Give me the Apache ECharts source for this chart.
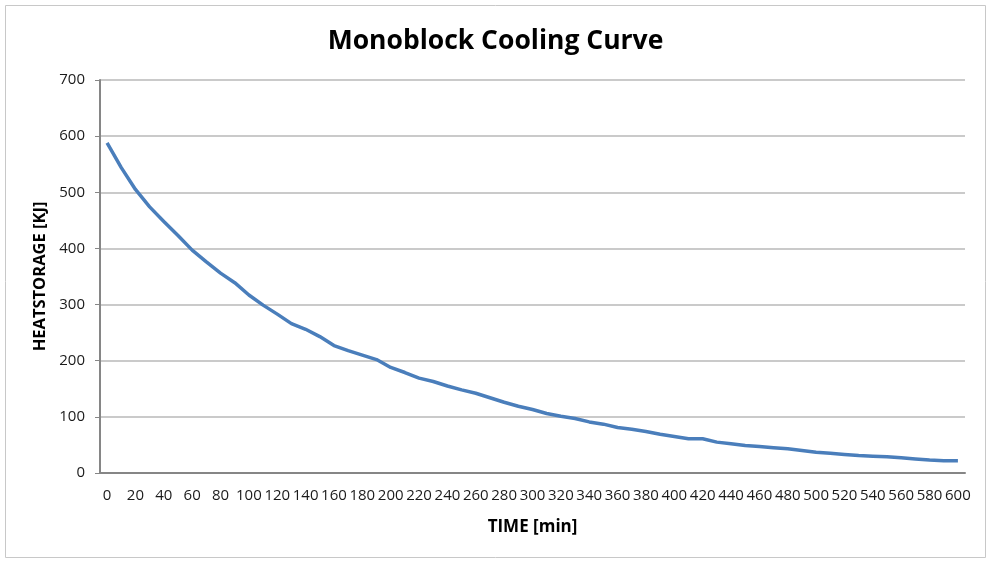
<!DOCTYPE html>
<html>
<head>
<meta charset="utf-8">
<script src="https://cdn.jsdelivr.net/npm/echarts@6/dist/echarts.min.js"></script>
<style>
  html, body { margin: 0; padding: 0; background: #ffffff; }
  #chart { width: 991px; height: 566px; }
</style>
</head>
<body>
<div id="chart"></div>
<script>
// Time in minutes (every 10 min); labels are shown for every second entry
const timeMinutes = [
  '0','10','20','30','40','50','60','70','80','90',
  '100','110','120','130','140','150','160','170','180','190',
  '200','210','220','230','240','250','260','270','280','290',
  '300','310','320','330','340','350','360','370','380','390',
  '400','410','420','430','440','450','460','470','480','490',
  '500','510','520','530','540','550','560','570','580','590',
  '600'
];

// Stored heat in kJ at each time step
const heatStorage = [
  588, 544, 505, 474, 448, 423, 397, 376, 356, 339,
  317, 299, 283, 266, 256, 243, 227, 218, 210, 202,
  188, 179, 169, 163, 155, 148, 142, 134, 126, 119,
  113, 106, 101, 97, 91, 87, 81, 78, 74, 69,
  65, 61, 61, 55, 52, 49, 47, 45, 43, 40,
  37, 35, 33, 31, 30, 29, 27, 25, 23, 22,
  22
];

const yTicks = { min: 0, max: 700, interval: 100 };

const chart = echarts.init(document.getElementById('chart'));
const labelFont = '"Open Sans", "Noto Sans", sans-serif';

chart.setOption({
  backgroundColor: '#ffffff',
  animation: false,
  title: {
    text: 'Monoblock Cooling Curve',
    left: 'center',
    top: 23,
    textStyle: {
      fontFamily: labelFont,
      fontSize: 26.5,
      fontWeight: 'bold',
      color: '#000000'
    }
  },
  graphic: [{
    type: 'rect',
    shape: { x: 5.5, y: 5.5, width: 980, height: 552 },
    style: { fill: 'none', stroke: '#c8c8c8', lineWidth: 1 },
    silent: true,
    z: -1
  }],
  grid: { left: 100, right: 26, top: 80, bottom: 93 },
  xAxis: {
    type: 'category',
    data: timeMinutes,
    boundaryGap: true,
    name: 'TIME [min]',
    nameLocation: 'middle',
    nameGap: 46,
    nameTextStyle: {
      fontFamily: labelFont,
      fontSize: 17,
      fontWeight: 'bold',
      color: '#000000'
    },
    axisLine: { show: true, lineStyle: { color: '#868686', width: 2 } },
    axisTick: { show: false },
    axisLabel: {
      interval: 1,
      margin: 15,
      fontFamily: labelFont,
      fontSize: 15,
      color: '#1a1a1a'
    },
    splitLine: { show: false }
  },
  yAxis: {
    type: 'value',
    min: yTicks.min,
    max: yTicks.max,
    interval: yTicks.interval,
    name: 'HEATSTORAGE [KJ]',
    nameLocation: 'middle',
    nameGap: 50,
    nameRotate: 90,
    nameTextStyle: {
      fontFamily: labelFont,
      fontSize: 16.5,
      fontWeight: 'bold',
      color: '#000000'
    },
    axisLine: { show: true, lineStyle: { color: '#868686', width: 2 } },
    axisTick: { show: true, length: 5, lineStyle: { color: '#868686', width: 1 } },
    axisLabel: {
      margin: 15,
      fontFamily: labelFont,
      fontSize: 15,
      color: '#1a1a1a'
    },
    splitLine: { show: true, lineStyle: { color: '#b8b8b8', width: 1.5 } }
  },
  series: [{
    type: 'line',
    data: heatStorage,
    showSymbol: false,
    symbol: 'none',
    smooth: false,
    lineStyle: { color: '#4a7ebb', width: 3.5 },
    itemStyle: { color: '#4a7ebb' }
  }]
});
</script>
</body>
</html>
